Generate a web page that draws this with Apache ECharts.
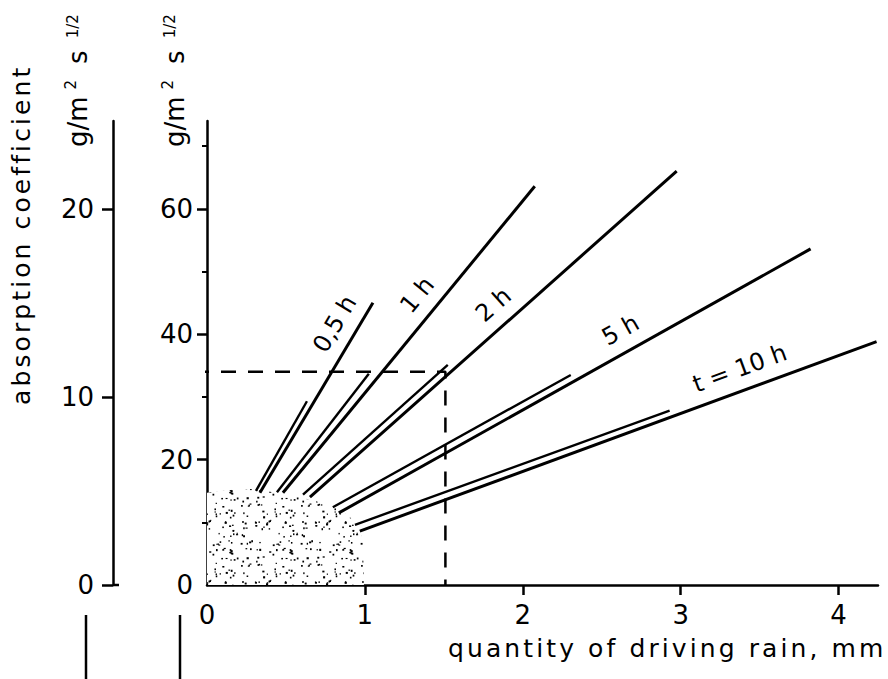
<!DOCTYPE html>
<html>
<head>
<meta charset="utf-8">
<script src="https://cdn.jsdelivr.net/npm/echarts@6/dist/echarts.min.js"></script>
<style>
html, body { margin: 0; padding: 0; background: #fff; }
#c { width: 888px; height: 679px; }
#c text[style*="25px"] { letter-spacing: 3.1px; }
</style>
</head>
<body>
<div id="c"></div>
<script>
// ---------------- data ----------------
const durations = ['0,5 h', '1 h', '2 h', '5 h', 't = 10 h'];

// single (main) line of each duration, inner axis units (g/m² s^1/2) vs mm
const mainStartX = [0.335, 0.481, 0.652, 0.835, 0.968];
const mainStartY = [14.7, 14.7, 14.0, 11.5, 8.6];
const mainEndX   = [1.051, 2.076, 2.975, 3.823, 4.241];
const mainEndY   = [45.0, 63.6, 66.0, 53.6, 38.8];

// parallel companion line (lower part of each double line)
const compStartX = [0.310, 0.443, 0.608, 0.797, 0.937];
const compStartY = [15.0, 14.8, 14.4, 12.4, 9.6];
const compEndX   = [0.633, 1.025, 1.525, 2.304, 2.930];
const compEndY   = [29.3, 33.7, 35.1, 33.5, 27.8];

// stippled region boundary (x in mm, inner axis units)
const stippleX = [0, 0.165, 0.291, 0.443, 0.589, 0.715, 0.823, 0.905, 0.956, 0.987, 0.994];
const stippleY = [14.7, 15.2, 15.3, 14.7, 14.0, 13.2, 12.4, 10.8, 9.3, 7.2, 0];

// dashed reading guide
const refX = 1.51;
const refY = 34.0;

// axes
const xMax = 4.25;
const xLabels = [0, 1, 2, 3, 4];
const xTicks = [1, 2, 3, 4];
const innerMax = 74;
const innerLabels = [0, 20, 40, 60];
const innerTicks = [20, 40, 60];
const innerMinorTicks = [10, 30, 50, 70];
const outerPerInner = 1 / 3;
const outerLabels = [0, 10, 20];

// ---------------- layout / style ----------------
const INK = '#000';
const FONT = 'DejaVu Sans';
const GRID = { left: 207, right: 10, top: 121, bottom: 94 };
const OUTER_OFFSET = 94;
const labelFrac = [0.83, 0.60, 0.54, 0.62, 0.75];
const labelGap = 22;

function stipplePattern() {
  const s = 60;
  const c = document.createElement('canvas');
  c.width = s; c.height = s;
  const g = c.getContext('2d');
  g.fillStyle = '#fff';
  g.fillRect(0, 0, s, s);
  g.fillStyle = '#000';
  let seed = 12345;
  const rnd = () => { seed = (seed * 16807) % 2147483647; return seed / 2147483647; };
  for (let k = 0; k < 95; k++) {
    const x = rnd() * (s - 3), y = rnd() * (s - 3);
    const w = 1.1 + rnd() * 1.1, h = 1.1 + rnd() * 1.1;
    g.fillRect(x, y, w, h);
  }
  return c;
}

const chart = echarts.init(document.getElementById('c'), null, { renderer: 'svg', width: 888, height: 679 });

const pat = stipplePattern();

function buildSeries(extra) {
  const series = [];
  series.push({
    type: 'line', silent: true, z: 1,
    data: stippleX.map((x, i) => [x, stippleY[i]]),
    symbol: 'none', showSymbol: false,
    lineStyle: { width: 0, opacity: 0 },
    areaStyle: { color: { image: pat, repeat: 'repeat', imageWidth: 60, imageHeight: 60 }, opacity: 1 }
  });
  durations.forEach((d, i) => {
    series.push({
      name: d + ' (double)', type: 'line', silent: true, z: 3,
      data: [[compStartX[i], compStartY[i]], [compEndX[i], compEndY[i]]],
      symbol: 'none', showSymbol: false,
      lineStyle: { color: INK, width: 2.4 }
    });
    series.push({
      name: d, type: 'line', silent: true, z: 3,
      data: [[mainStartX[i], mainStartY[i]], [mainEndX[i], mainEndY[i]]],
      symbol: 'none', showSymbol: false,
      lineStyle: { color: INK, width: 3 }
    });
  });
  return series.concat(extra || []);
}

const axisLineStyle = { color: INK, width: 2.5 };
const tickLabel = { color: INK, fontFamily: FONT, fontSize: 26 };

const option = {
  animation: false,
  backgroundColor: '#fff',
  grid: { left: GRID.left, right: GRID.right, top: GRID.top, bottom: GRID.bottom, containLabel: false },
  xAxis: {
    type: 'value', min: 0, max: xMax, interval: 1,
    axisLine: { show: true, onZero: false, lineStyle: axisLineStyle },
    axisTick: { show: true, length: 10, lineStyle: axisLineStyle, customValues: xTicks },
    axisLabel: Object.assign({ margin: 17, customValues: xLabels }, tickLabel),
    splitLine: { show: false }
  },
  yAxis: [
    {
      type: 'value', position: 'left', offset: 0, min: 0, max: innerMax, interval: 20,
      axisLine: { show: true, onZero: false, lineStyle: axisLineStyle },
      axisTick: { show: true, length: 10, lineStyle: axisLineStyle, customValues: innerTicks },
      axisLabel: Object.assign({ margin: 14, customValues: innerLabels }, tickLabel),
      splitLine: { show: false }
    },
    {
      type: 'value', position: 'left', offset: OUTER_OFFSET, min: 0, max: innerMax * outerPerInner, interval: 10,
      axisLine: { show: true, onZero: false, lineStyle: axisLineStyle },
      axisTick: { show: true, length: 11, lineStyle: axisLineStyle, customValues: outerLabels },
      axisLabel: Object.assign({ margin: 19, customValues: outerLabels }, tickLabel),
      splitLine: { show: false }
    },
    {
      type: 'value', position: 'left', offset: 0, min: 0, max: innerMax, interval: 10,
      axisLine: { show: false },
      axisTick: { show: true, length: 5, lineStyle: { color: INK, width: 2 }, customValues: innerMinorTicks },
      axisLabel: { show: false },
      splitLine: { show: false }
    }
  ],
  series: buildSeries()
};

chart.setOption(option);

// ---------- second pass: things positioned from the laid-out axes ----------
const P = (p) => chart.convertToPixel({ xAxisIndex: 0, yAxisIndex: 0 }, p);
const outerAxisPx = GRID.left - OUTER_OFFSET;
const xAtOuterAxis = chart.convertFromPixel({ xAxisIndex: 0 }, outerAxisPx);

const dashed = {
  name: 'reading guide', type: 'line', silent: true, z: 4, clip: false,
  data: [[xAtOuterAxis, refY], [refX, refY], [refX, 0]],
  symbol: 'none', showSymbol: false,
  lineStyle: { color: INK, width: 2.5, type: [15, 12] }
};

function txt(text, x, y, rot, size, align, extraStyle) {
  return {
    type: 'text', x: x, y: y, rotation: rot, z: 10, silent: true,
    style: Object.assign({
      text: text, fill: INK, fontFamily: FONT, fontSize: size,
      align: align, textAlign: align, verticalAlign: 'middle', textVerticalAlign: 'middle'
    }, extraStyle || {})
  };
}

const graphics = [];
durations.forEach((d, i) => {
  const a = P([mainStartX[i], mainStartY[i]]);
  const b = P([mainEndX[i], mainEndY[i]]);
  const dx = b[0] - a[0], dy = b[1] - a[1];
  const len = Math.hypot(dx, dy);
  const ux = dx / len, uy = dy / len;
  const f = labelFrac[i];
  const cx = a[0] + dx * f + uy * labelGap;
  const cy = a[1] + dy * f - ux * labelGap;
  graphics.push(txt(d, cx, cy, Math.atan2(-dy, dx), 24, 'center'));
});

// axis titles
graphics.push(txt('absorption coefficient', 21, 405, Math.PI / 2, 25, 'left'));
graphics.push(txt('quantity of driving rain, mm', 448, 648, 0, 25, 'left'));

const unitRich = {
  a: { fontFamily: FONT, fontSize: 26, padding: [0, 4, 0, 0], fill: INK, color: INK },
  b: { fontFamily: FONT, fontSize: 15, padding: [0, 0, 14, 3], fill: INK, color: INK },
  s: { fontFamily: FONT, fontSize: 26, padding: [0, 0, 0, 16], fill: INK, color: INK },
  c: { fontFamily: FONT, fontSize: 15, padding: [0, 0, 11, 12], fill: INK, color: INK }
};
const unitText = '{a|g/m}{b|2}{s|s}{c|1/2}';
graphics.push(txt(unitText, 78, 147, Math.PI / 2, 26, 'left', { rich: unitRich }));
graphics.push(txt(unitText, 175, 147, Math.PI / 2, 26, 'left', { rich: unitRich }));

// little cross-foot at the outer axis zero, and two axis stubs of the next figure below
const zeroPx = P([0, 0]);
graphics.push({ type: 'line', silent: true, shape: { x1: outerAxisPx, y1: zeroPx[1], x2: outerAxisPx + 6, y2: zeroPx[1] }, style: { stroke: INK, lineWidth: 2.5 } });
graphics.push({ type: 'line', silent: true, shape: { x1: 86, y1: 615, x2: 86, y2: 679 }, style: { stroke: INK, lineWidth: 2.5 } });
graphics.push({ type: 'line', silent: true, shape: { x1: 180, y1: 615, x2: 180, y2: 679 }, style: { stroke: INK, lineWidth: 2.5 } });

option.series = buildSeries([dashed]);
option.graphic = graphics;
chart.setOption(option, true);
</script>
</body>
</html>
